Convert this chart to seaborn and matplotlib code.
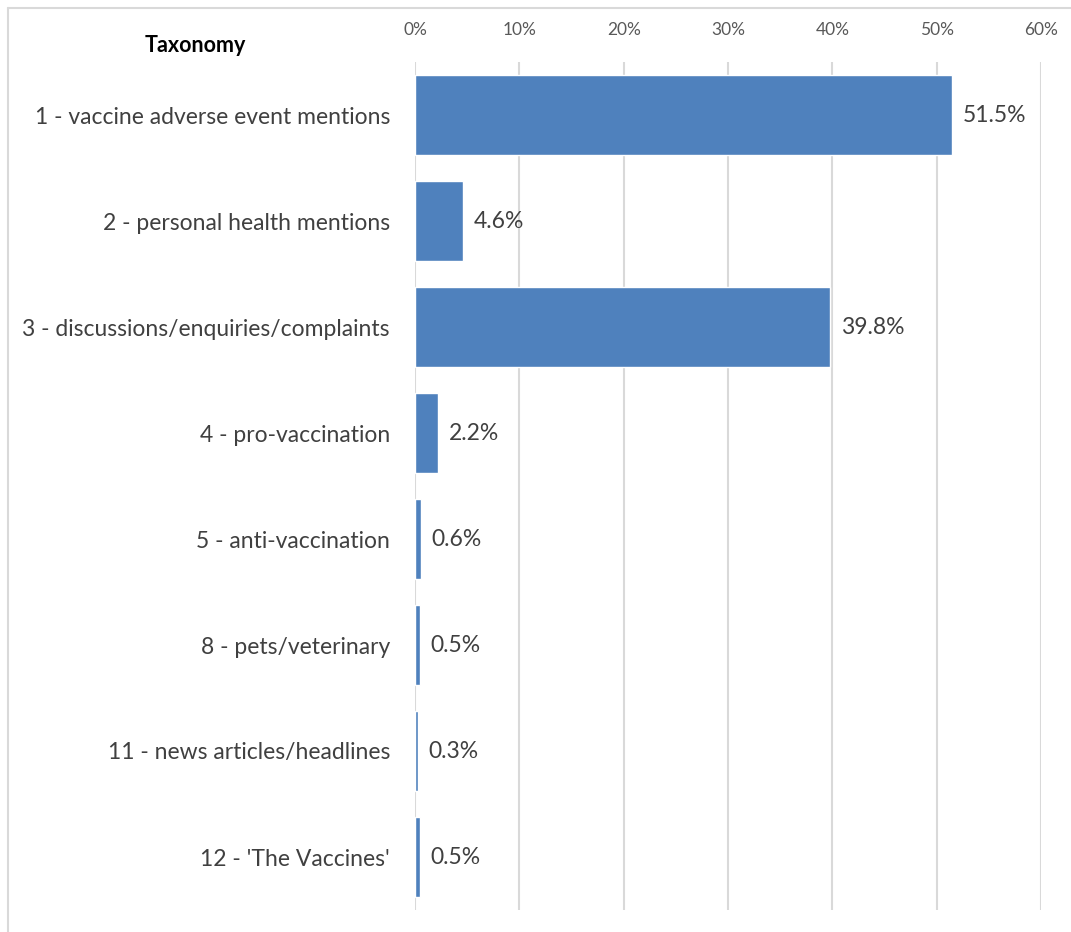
import matplotlib
matplotlib.use("Agg")
import matplotlib.pyplot as plt
import seaborn as sns
import pandas as pd
from matplotlib.lines import Line2D
from matplotlib.ticker import FuncFormatter

# 데이터
categories = [
    "1 - vaccine adverse event mentions",
    "2 - personal health mentions",
    "3 - discussions/enquiries/complaints",
    "4 - pro-vaccination",
    "5 - anti-vaccination",
    "8 - pets/veterinary",
    "11 - news articles/headlines",
    "12 - 'The Vaccines'",
]
shares = [51.5, 4.6, 39.8, 2.2, 0.6, 0.5, 0.3, 0.5]
xticks = [0, 10, 20, 30, 40, 50, 60]

df = pd.DataFrame({"Taxonomy": categories, "Share": shares})

sns.set_style("white")
plt.rcParams["font.family"] = ["Lato", "DejaVu Sans"]

fig = plt.figure(figsize=(10.71, 9.32), dpi=100)
ax = fig.add_axes([415 / 1071, 1 - 910 / 932, (1041 - 415) / 1071, (910 - 62) / 932])

sns.barplot(data=df, x="Share", y="Taxonomy", color="#4F81BD", width=0.755,
            saturation=1, ax=ax, zorder=3)

ax.set_xlim(0, 60)
ax.set_xticks(xticks)
ax.xaxis.set_major_formatter(FuncFormatter(lambda v, p: f"{v:.0f}%"))
ax.xaxis.tick_top()
ax.tick_params(axis="x", length=0, pad=17, labelsize=12.5, labelcolor="#595959")
ax.tick_params(axis="y", length=0, pad=18, labelsize=16.5, labelcolor="#404040")
ax.grid(axis="x", color="#D9D9D9", linewidth=1.5, zorder=0)
ax.set_xlabel("")
ax.set_ylabel("")
for s in ax.spines.values():
    s.set_visible(False)

# 값 라벨
for i, v in enumerate(shares):
    ax.text(v + 1.0, i, f"{v}%", va="center", ha="left", fontsize=16.5, color="#404040")

fig.text(195 / 1071, 1 - 45 / 932, "Taxonomy", ha="center", va="center",
         fontsize=15.5, fontweight="bold", color="black")

# 테두리
fig.add_artist(Line2D([8 / 1071, 1], [1 - 8 / 932, 1 - 8 / 932], color="#D9D9D9", linewidth=1.5))
fig.add_artist(Line2D([8 / 1071, 8 / 1071], [0, 1 - 8 / 932], color="#D9D9D9", linewidth=1.5))

fig.savefig("out.png", dpi=100)
